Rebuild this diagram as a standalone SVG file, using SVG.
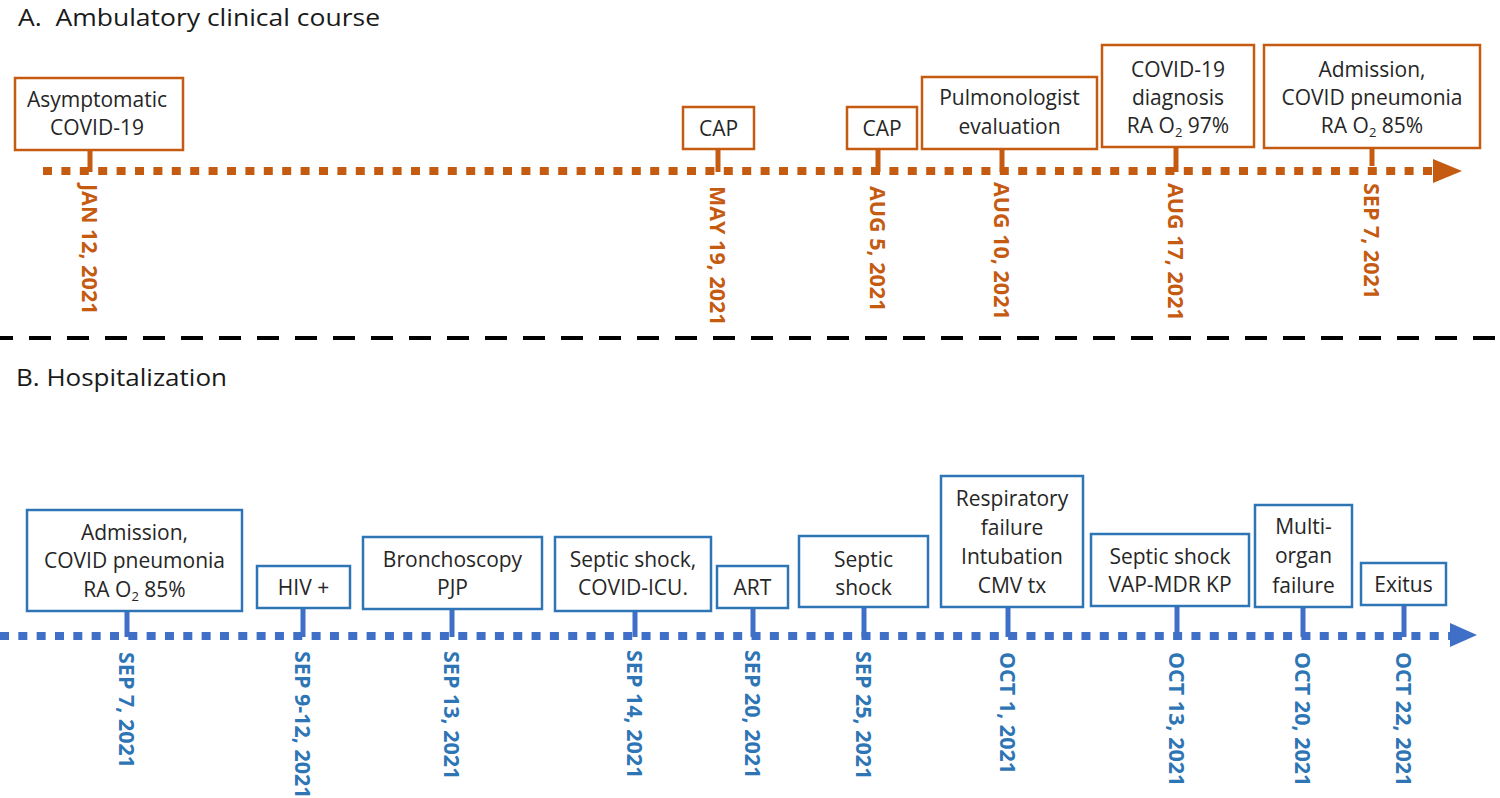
<svg xmlns="http://www.w3.org/2000/svg" width="1500" height="798" viewBox="0 0 1500 798">
<style>
.title{font-family:"Open Sans","Liberation Sans",sans-serif;font-size:24px;fill:#1a1a1a;white-space:pre}
.bt{font-family:"Open Sans","Liberation Sans",sans-serif;font-size:21px;fill:#262626;text-anchor:middle}
.ob{fill:#fff;stroke:#C55A11;stroke-width:2.5}
.bb{fill:#fff;stroke:#2E75B6;stroke-width:2.5}
.os{stroke:#C55A11;stroke-width:5}
.bs{stroke:#3F6FC6;stroke-width:5}
.od{font-family:"Open Sans","Liberation Sans",sans-serif;font-size:21.5px;font-weight:bold;fill:#C55A11}
.bd{font-family:"Open Sans","Liberation Sans",sans-serif;font-size:21.5px;font-weight:bold;fill:#2E75B6}
.sub{font-size:13px}
</style>
<rect width="1500" height="798" fill="#fff"/>
<text class="title" x="18" y="26" textLength="362" lengthAdjust="spacingAndGlyphs" xml:space="preserve">A.  Ambulatory clinical course</text>
<text class="title" x="16" y="386" textLength="211" lengthAdjust="spacingAndGlyphs">B. Hospitalization</text>

<g id="connectors">
  <line x1="43" y1="171" x2="1433" y2="171" stroke="#C55A11" stroke-width="8" stroke-dasharray="9 9.4"/>
  <polygon points="1433,159 1462,171 1433,183" fill="#C55A11"/>
  <line x1="-9" y1="338" x2="1500" y2="338" stroke="#000" stroke-width="4" stroke-dasharray="22 16"/>
  <line x1="0" y1="636" x2="1450" y2="636" stroke="#3F6FC6" stroke-width="8" stroke-dasharray="9 9.33"/>
  <polygon points="1450,623 1477,635 1450,647" fill="#3F6FC6"/>
  <line class="os" x1="90" y1="150" x2="90" y2="172"/>
  <line class="os" x1="718" y1="149" x2="718" y2="172"/>
  <line class="os" x1="878" y1="149" x2="878" y2="172"/>
  <line class="os" x1="1002" y1="149" x2="1002" y2="172"/>
  <line class="os" x1="1176" y1="147" x2="1176" y2="172"/>
  <line class="os" x1="1372" y1="148" x2="1372" y2="166"/>
  <line class="bs" x1="127" y1="611" x2="127" y2="637"/>
  <line class="bs" x1="303" y1="608" x2="303" y2="637"/>
  <line class="bs" x1="452" y1="609" x2="452" y2="637"/>
  <line class="bs" x1="635" y1="611" x2="635" y2="637"/>
  <line class="bs" x1="753" y1="608" x2="753" y2="637"/>
  <line class="bs" x1="864" y1="607" x2="864" y2="637"/>
  <line class="bs" x1="1008" y1="607" x2="1008" y2="637"/>
  <line class="bs" x1="1177" y1="606" x2="1177" y2="637"/>
  <line class="bs" x1="1303" y1="607" x2="1303" y2="637"/>
  <line class="bs" x1="1404" y1="605" x2="1404" y2="637"/>
</g>

<g id="a1">
  <rect class="ob" x="15" y="78" width="168" height="72"/>
  <text class="bt" x="97" y="107">Asymptomatic</text>
  <text class="bt" x="97" y="135">COVID-19</text>
  <text class="od" transform="translate(82,184) rotate(90)">JAN 12, 2021</text>
</g>
<g id="a2">
  <rect class="ob" x="683" y="107" width="71" height="42"/>
  <text class="bt" x="718.5" y="136">CAP</text>
  <text class="od" transform="translate(710,186) rotate(90)">MAY 19, 2021</text>
</g>
<g id="a3">
  <rect class="ob" x="847" y="107" width="70" height="42"/>
  <text class="bt" x="882" y="136">CAP</text>
  <text class="od" transform="translate(870,186) rotate(90)">AUG 5, 2021</text>
</g>
<g id="a4">
  <rect class="ob" x="922" y="77" width="175" height="72"/>
  <text class="bt" x="1009.5" y="105">Pulmonologist</text>
  <text class="bt" x="1009.5" y="134">evaluation</text>
  <text class="od" transform="translate(994,182) rotate(90)">AUG 10, 2021</text>
</g>
<g id="a5">
  <rect class="ob" x="1102" y="45" width="152" height="102"/>
  <text class="bt" x="1178" y="77">COVID-19</text>
  <text class="bt" x="1178" y="105">diagnosis</text>
  <text class="bt" x="1178" y="133">RA O<tspan class="sub" dy="4">2</tspan><tspan dy="-4"> 97%</tspan></text>
  <text class="od" transform="translate(1168,183) rotate(90)">AUG 17, 2021</text>
</g>
<g id="a6">
  <rect class="ob" x="1264" y="45" width="216" height="103"/>
  <text class="bt" x="1372" y="77">Admission,</text>
  <text class="bt" x="1372" y="105">COVID pneumonia</text>
  <text class="bt" x="1372" y="133">RA O<tspan class="sub" dy="4">2</tspan><tspan dy="-4"> 85%</tspan></text>
  <text class="od" transform="translate(1364,183) rotate(90)">SEP 7, 2021</text>
</g>

<g id="b1">
  <rect class="bb" x="27" y="510" width="215" height="101"/>
  <text class="bt" x="134.5" y="540">Admission,</text>
  <text class="bt" x="134.5" y="568">COVID pneumonia</text>
  <text class="bt" x="134.5" y="597">RA O<tspan class="sub" dy="4">2</tspan><tspan dy="-4"> 85%</tspan></text>
  <text class="bd" transform="translate(119,652) rotate(90)">SEP 7, 2021</text>
</g>
<g id="b2">
  <rect class="bb" x="257" y="566" width="93" height="42"/>
  <text class="bt" x="303.5" y="595">HIV +</text>
  <text class="bd" transform="translate(295,651) rotate(90)">SEP 9-12, 2021</text>
</g>
<g id="b3">
  <rect class="bb" x="363" y="537" width="179" height="72"/>
  <text class="bt" x="452.5" y="567">Bronchoscopy</text>
  <text class="bt" x="452.5" y="595">PJP</text>
  <text class="bd" transform="translate(444,651) rotate(90)">SEP 13, 2021</text>
</g>
<g id="b4">
  <rect class="bb" x="555" y="537" width="156" height="74"/>
  <text class="bt" x="633" y="567">Septic shock,</text>
  <text class="bt" x="633" y="595">COVID-ICU.</text>
  <text class="bd" transform="translate(627,650) rotate(90)">SEP 14, 2021</text>
</g>
<g id="b5">
  <rect class="bb" x="717" y="566" width="71" height="42"/>
  <text class="bt" x="752.5" y="595">ART</text>
  <text class="bd" transform="translate(745,650) rotate(90)">SEP 20, 2021</text>
</g>
<g id="b6">
  <rect class="bb" x="799" y="536" width="129" height="71"/>
  <text class="bt" x="863.5" y="567">Septic</text>
  <text class="bt" x="863.5" y="595">shock</text>
  <text class="bd" transform="translate(856,651) rotate(90)">SEP 25, 2021</text>
</g>
<g id="b7">
  <rect class="bb" x="941" y="476" width="142" height="131"/>
  <text class="bt" x="1012" y="506">Respiratory</text>
  <text class="bt" x="1012" y="535">failure</text>
  <text class="bt" x="1012" y="564">Intubation</text>
  <text class="bt" x="1012" y="593">CMV tx</text>
  <text class="bd" transform="translate(1000,652) rotate(90)">OCT 1, 2021</text>
</g>
<g id="b8">
  <rect class="bb" x="1091" y="534" width="158" height="72"/>
  <text class="bt" x="1170" y="564">Septic shock</text>
  <text class="bt" x="1170" y="592">VAP-MDR KP</text>
  <text class="bd" transform="translate(1169,652) rotate(90)">OCT 13, 2021</text>
</g>
<g id="b9">
  <rect class="bb" x="1255" y="505" width="97" height="102"/>
  <text class="bt" x="1303.5" y="534">Multi-</text>
  <text class="bt" x="1303.5" y="563">organ</text>
  <text class="bt" x="1303.5" y="593">failure</text>
  <text class="bd" transform="translate(1295,652) rotate(90)">OCT 20, 2021</text>
</g>
<g id="b10">
  <rect class="bb" x="1361" y="563" width="85" height="42"/>
  <text class="bt" x="1403.5" y="592">Exitus</text>
  <text class="bd" transform="translate(1396,652) rotate(90)">OCT 22, 2021</text>
</g>
</svg>
